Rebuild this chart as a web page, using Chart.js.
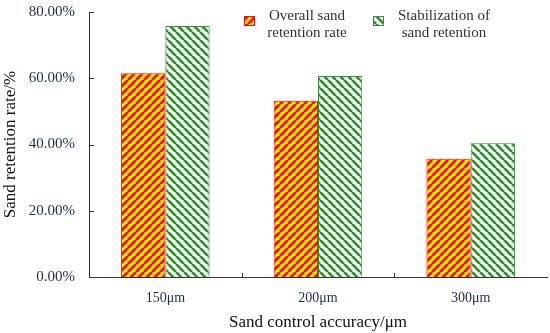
<!DOCTYPE html>
<html>
<head>
<meta charset="utf-8">
<script src="https://cdn.jsdelivr.net/npm/chart.js@4"></script>
<style>
  html, body { margin: 0; padding: 0; background: #fff; }
  #wrap { width: 550px; height: 333px; }
</style>
</head>
<body>
<div id="wrap"><canvas id="chart"></canvas></div>
<script>
// data
const accuracies = ['150μm', '200μm', '300μm'];
const overallRetention = [61.5, 53.2, 35.7];
const stableRetention  = [75.8, 60.7, 40.4];
const seriesNames = ['Overall sand\nretention rate', 'Stabilization of\nsand retention'];
const yTicks = [0, 20, 40, 60, 80];

const serif = "'Liberation Serif', 'Times New Roman', serif";
const tickColor = '#1f2c4c';

// striped fill tiles
function stripes(bg, fg, dir, size, lw) {
  const c = document.createElement('canvas');
  c.width = size; c.height = size;
  const g = c.getContext('2d');
  g.fillStyle = bg;
  g.fillRect(0, 0, size, size);
  g.strokeStyle = fg;
  g.lineWidth = lw;
  g.beginPath();
  for (let k = -1; k <= 1; k++) {
    if (dir === '/') {
      g.moveTo(k * size, size); g.lineTo(k * size + size, 0);
    } else {
      g.moveTo(k * size, 0); g.lineTo(k * size + size, size);
    }
  }
  g.stroke();
  return g.createPattern(c, 'repeat');
}

const ctx = document.getElementById('chart').getContext('2d');
const redFill = stripes('#ffee00', '#f01010', '/', 8, 2.9);
const greenFill = stripes('#f2f9ee', '#2f8a2f', '\\', 8, 2.6);

// inner tick marks + two-line legend
const extras = {
  id: 'extras',
  afterDraw(chart) {
    const g = chart.ctx;
    const x = chart.scales.x, y = chart.scales.y;
    g.save();
    g.strokeStyle = '#333';
    g.lineWidth = 1;
    g.beginPath();
    yTicks.forEach(v => {
      const py = Math.round(y.getPixelForValue(v)) + 0.5;
      g.moveTo(x.left, py); g.lineTo(x.left + 5, py);
    });
    for (let i = 0; i < accuracies.length - 1; i++) {
      const px = Math.round((x.getPixelForValue(i) + x.getPixelForValue(i + 1)) / 2) + 0.5;
      g.moveTo(px, y.bottom); g.lineTo(px, y.bottom - 4);
    }
    g.stroke();

    // legend
    const spots = [{ mx: 244, tx: 307 }, { mx: 373, tx: 444 }];
    g.font = '15px ' + serif;
    g.textAlign = 'center';
    g.textBaseline = 'middle';
    chart.data.datasets.forEach((ds, i) => {
      const s = spots[i];
      g.fillStyle = ds.backgroundColor;
      g.fillRect(s.mx, 16, 11, 10);
      g.strokeStyle = ds.borderColor;
      g.strokeRect(s.mx + 0.5, 16.5, 10, 9);
      g.fillStyle = '#333';
      ds.label.split('\n').forEach((line, j) => {
        g.fillText(line, s.tx, 16 + j * 17);
      });
    });
    g.restore();
  }
};

new Chart(ctx, {
  type: 'bar',
  data: {
    labels: accuracies,
    datasets: [
      { label: seriesNames[0], data: overallRetention, backgroundColor: redFill, borderColor: '#f01010', borderWidth: 1 },
      { label: seriesNames[1], data: stableRetention, backgroundColor: greenFill, borderColor: '#3a8c3a', borderWidth: 1 }
    ]
  },
  options: {
    responsive: true, maintainAspectRatio: false, animation: false,
    layout: { padding: { top: 12, right: 3, left: 0, bottom: 0 } },
    plugins: { legend: { display: false }, tooltip: { enabled: false } },
    datasets: { bar: { categoryPercentage: 0.58, barPercentage: 1 } },
    scales: {
      x: {
        afterFit: s => { s.height = 56; },
        grid: { display: false, drawTicks: false },
        border: { color: '#333', width: 1 },
        ticks: { color: tickColor, font: { family: serif, size: 14 }, padding: 13 },
        title: { display: true, text: 'Sand control accuracy/μm', color: '#111', font: { family: serif, size: 17 }, padding: { top: 3, bottom: 0 } }
      },
      y: {
        min: 0, max: 80,
        afterBuildTicks: s => { s.ticks = yTicks.map(v => ({ value: v })); },
        afterFit: s => { s.width = 89; s.paddingTop = 0; s.paddingBottom = 0; },
        grid: { display: false, drawTicks: false },
        border: { color: '#333', width: 1 },
        ticks: { color: tickColor, font: { family: serif, size: 15 }, padding: 14, callback: v => v.toFixed(2) + '%' },
        title: { display: true, text: 'Sand retention rate/%', color: '#111', font: { family: serif, size: 17 }, padding: 0 }
      }
    }
  },
  plugins: [extras]
});
</script>
</body>
</html>
